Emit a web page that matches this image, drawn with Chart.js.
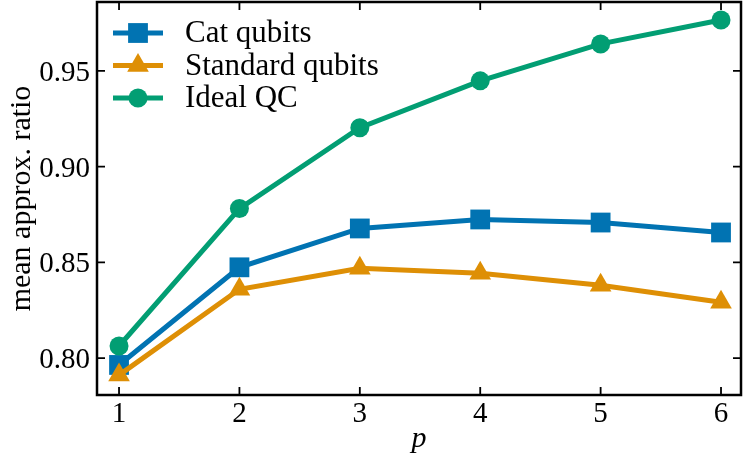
<!DOCTYPE html>
<html>
<head>
<meta charset="utf-8">
<script src="https://cdn.jsdelivr.net/npm/chart.js@4/dist/chart.umd.min.js"></script>
<style>
  html, body { margin: 0; padding: 0; background: #fff; }
  #wrap { width: 743px; height: 459px; }
</style>
</head>
<body>
<div id="wrap"><canvas id="qaoaChart"></canvas></div>
<script>
// Data
const pValues = [1, 2, 3, 4, 5, 6];
const catQubits = [0.7964, 0.8474, 0.8677, 0.8724, 0.8708, 0.8656];
const standardQubits = [0.7911, 0.8359, 0.8469, 0.8443, 0.8380, 0.8292];
const idealQC = [0.8063, 0.8781, 0.9203, 0.9448, 0.9641, 0.9766];
const yTickValues = [0.80, 0.85, 0.90, 0.95];

const FONT = '"Liberation Serif", "Times New Roman", serif';

function toPoints(ys) {
  return pValues.map((p, i) => ({ x: p, y: ys[i] }));
}

// frame, inward ticks on all four sides, tick labels
const framePlugin = {
  id: 'frame',
  afterDatasetsDraw(chart) {
    const ctx = chart.ctx;
    const a = chart.chartArea;
    const xs = chart.scales.x, ys = chart.scales.y;
    const tl = 8;
    ctx.save();
    ctx.strokeStyle = '#000';
    ctx.fillStyle = '#000';
    ctx.lineWidth = 1.8;
    ctx.font = '29px ' + FONT;
    ctx.textBaseline = 'alphabetic';
    ctx.textAlign = 'center';
    xs.ticks.forEach(t => {
      const px = xs.getPixelForValue(t.value);
      ctx.beginPath();
      ctx.moveTo(px, a.bottom); ctx.lineTo(px, a.bottom - tl);
      ctx.moveTo(px, a.top); ctx.lineTo(px, a.top + tl);
      ctx.stroke();
      ctx.fillText(String(t.value), px, a.bottom + 27);
    });
    ctx.textAlign = 'right';
    ys.ticks.forEach(t => {
      const py = ys.getPixelForValue(t.value);
      ctx.beginPath();
      ctx.moveTo(a.left, py); ctx.lineTo(a.left + tl, py);
      ctx.moveTo(a.right, py); ctx.lineTo(a.right - tl, py);
      ctx.stroke();
      ctx.fillText(t.value.toFixed(2), a.left - 7, py + 10);
    });
    ctx.lineWidth = 2.5;
    ctx.strokeRect(a.left, a.top, a.right - a.left, a.bottom - a.top);
    ctx.restore();
  }
};

// legend inside the axes, line + marker like matplotlib
const innerLegend = {
  id: 'innerLegend',
  afterDraw(chart) {
    const ctx = chart.ctx;
    const a = chart.chartArea;
    ctx.save();
    chart.data.datasets.forEach((ds, i) => {
      const y = a.top + 31 + i * 32.5;
      const x0 = a.left + 16, x1 = a.left + 66;
      ctx.strokeStyle = ds.borderColor;
      ctx.lineWidth = ds.borderWidth;
      ctx.beginPath();
      ctx.moveTo(x0, y); ctx.lineTo(x1, y);
      ctx.stroke();
      ctx.fillStyle = ds.pointBackgroundColor;
      ctx.strokeStyle = ds.pointBackgroundColor;
      Chart.helpers.drawPoint(ctx, {
        pointStyle: ds.pointStyle, radius: ds.pointRadius, borderWidth: 0, rotation: 0
      }, (x0 + x1) / 2, y);
      ctx.fillStyle = '#000';
      ctx.font = '31px ' + FONT;
      ctx.textBaseline = 'middle';
      ctx.textAlign = 'left';
      ctx.fillText(ds.label, a.left + 88, y + 1);
    });
    ctx.restore();
  }
};

// axis titles
const axisTitles = {
  id: 'axisTitles',
  afterDraw(chart) {
    const ctx = chart.ctx;
    const a = chart.chartArea;
    ctx.save();
    ctx.fillStyle = '#000';
    ctx.textAlign = 'center';
    ctx.textBaseline = 'middle';
    ctx.font = '30px ' + FONT;
    ctx.translate(22, (a.top + a.bottom) / 2);
    ctx.rotate(-Math.PI / 2);
    ctx.fillText('mean approx. ratio', 0, 0);
    ctx.restore();
    ctx.save();
    ctx.fillStyle = '#000';
    ctx.textAlign = 'center';
    ctx.textBaseline = 'alphabetic';
    ctx.font = 'italic 30px ' + FONT;
    ctx.fillText('p', (a.left + a.right) / 2, 447);
    ctx.restore();
  }
};

const ctx = document.getElementById('qaoaChart').getContext('2d');
const qaoaChart = new Chart(ctx, {
  type: 'line',
  data: {
    datasets: [
      {
        label: 'Cat qubits',
        data: toPoints(catQubits),
        borderColor: '#0173B2',
        backgroundColor: '#0173B2',
        pointBackgroundColor: '#0173B2',
        pointBorderWidth: 0,
        pointStyle: 'rect',
        pointRadius: 14,
        borderWidth: 5,
        order: 2
      },
      {
        label: 'Standard qubits',
        data: toPoints(standardQubits),
        borderColor: '#DE8F05',
        backgroundColor: '#DE8F05',
        pointBackgroundColor: '#DE8F05',
        pointBorderWidth: 0,
        pointStyle: 'triangle',
        pointRadius: 12.5,
        borderWidth: 5,
        order: 1
      },
      {
        label: 'Ideal QC',
        data: toPoints(idealQC),
        borderColor: '#029E73',
        backgroundColor: '#029E73',
        pointBackgroundColor: '#029E73',
        pointBorderWidth: 0,
        pointStyle: 'circle',
        pointRadius: 9.5,
        borderWidth: 5,
        order: 0
      }
    ]
  },
  options: {
    responsive: true,
    maintainAspectRatio: false,
    animation: false,
    layout: { autoPadding: false, padding: { top: 2, right: 2, left: 0, bottom: 0 } },
    plugins: { legend: { display: false }, tooltip: { enabled: false } },
    elements: { line: { tension: 0 } },
    scales: {
      x: {
        type: 'linear',
        min: 0.817,
        max: 6.166,
        afterBuildTicks: s => { s.ticks = pValues.map(v => ({ value: v })); },
        afterFit: s => { s.height = 64; },
        grid: { display: false },
        border: { display: false },
        ticks: { display: false }
      },
      y: {
        type: 'linear',
        min: 0.7807,
        max: 0.986,
        afterBuildTicks: s => { s.ticks = yTickValues.map(v => ({ value: v })); },
        afterFit: s => { s.width = 97; },
        grid: { display: false },
        border: { display: false },
        ticks: { display: false }
      }
    }
  },
  plugins: [framePlugin, innerLegend, axisTitles]
});
</script>
</body>
</html>
